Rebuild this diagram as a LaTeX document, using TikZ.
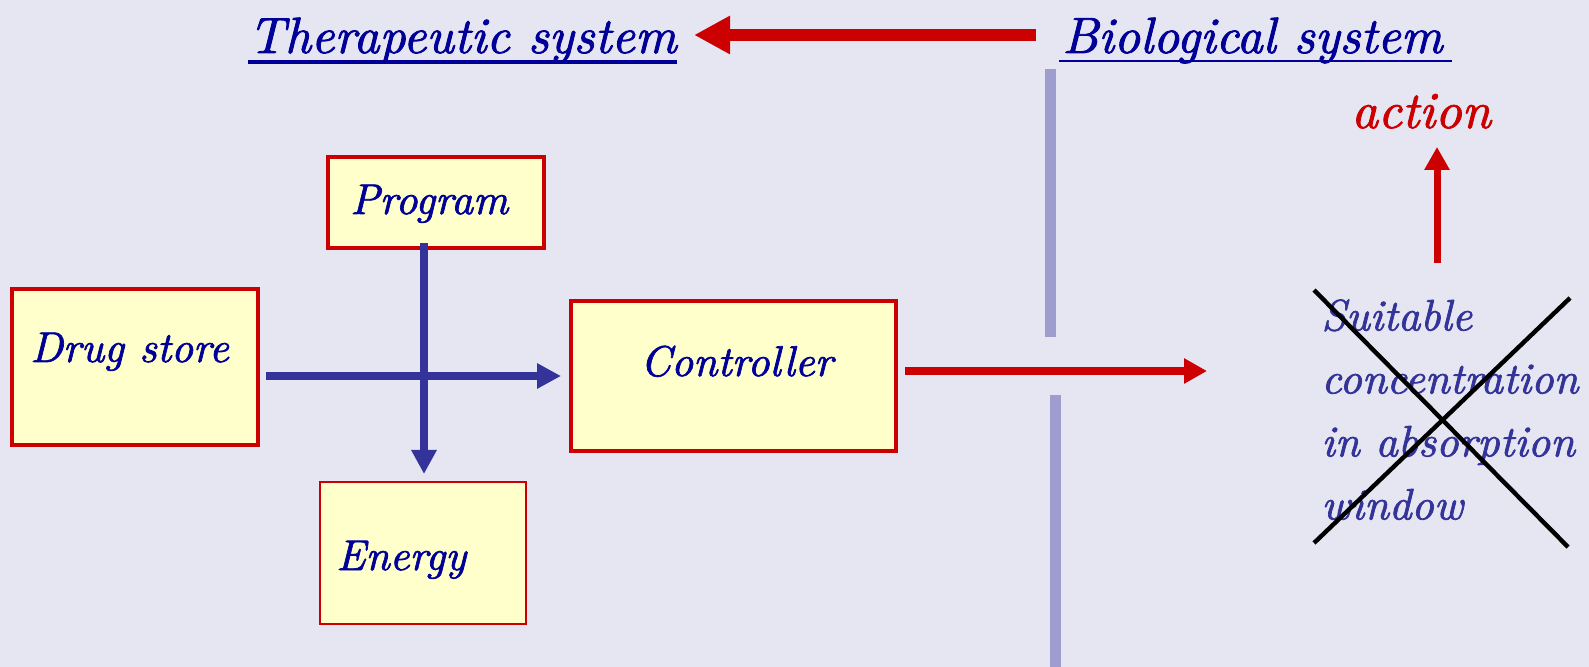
\documentclass[tikz,border=0pt]{standalone}
\usepackage{fontspec}
\usetikzlibrary{arrows.meta,calc}
% a heavier calligraphic italic for every label
\newfontfamily\heavyit{lmroman10-italic.otf}[FakeBold=1.6]
\definecolor{slide}{HTML}{E6E6F2}
\definecolor{boxfill}{HTML}{FFFFCC}
\definecolor{boxred}{HTML}{CC0000}
\definecolor{ink}{HTML}{000099}
\definecolor{flow}{HTML}{333399}
\definecolor{wallc}{HTML}{9E9ECE}
\begin{document}
\begin{tikzpicture}[x=0.5pt,y=-0.5pt,
  box/.style={draw=boxred, fill=boxfill, line width=2pt, inner sep=0pt, anchor=north west},
  lbl/.style={text=ink, font=\fontsize{21.5}{26}\heavyit, inner sep=0pt, anchor=base west},
  heading/.style={text=ink, font=\fontsize{25.5}{30}\heavyit, inner sep=0pt, anchor=base west},
  flowarrow/.style={draw=flow, line width=4pt, -{Triangle[length=12pt,width=12pt]}},
  redarrow/.style={draw=boxred, line width=4pt, -{Triangle[length=11.5pt,width=12pt]}},
  bigred/.style={draw=boxred, line width=6pt, -{Triangle[length=18pt,width=18pt]}},
  wall/.style={draw=wallc, line width=5.5pt},
  cross/.style={draw=black, line width=2.2pt}
]
% page
\fill[slide] (0,0) rectangle (1589,667);
\useasboundingbox (0,0) rectangle (1589,667);

% headings
\node[heading] (ther) at (248,53) {Therapeutic system};
\node[heading] (bio) at (1062,53) {Biological system};
\draw[ink, line width=1.75pt] ($(ther.base west)+(0,9)$) -- ($(ther.base east)+(0,9)$);
\draw[ink, line width=1pt] ($(bio.base west)+(-3,8)$) -- ($(bio.base east)+(9,8)$);
\draw[bigred] ($(bio.base west)+(-26,-18)$) -- ($(ther.base east)+(17,-18)$);

% membrane
\draw[wall] (1050,69) -- (1050,337);
\draw[wall] (1055,395) -- (1055,667);

% boxes of the therapeutic system
\node[box, minimum width=108pt, minimum height=45.5pt] (prog) at (326,155) {};
\node[box, minimum width=123pt, minimum height=78pt] (drug) at (10,287) {};
\node[box, minimum width=162.5pt, minimum height=75pt] (ctrl) at (569,299) {};
\node[box, line width=0.9pt, minimum width=103pt, minimum height=71pt] (en) at (319,481) {};

\node[lbl] (progtxt) at (350,214) {Program};
\node[lbl] (drugtxt) at (30,362) {Drug store};
\node[lbl] (ctrltxt) at (640,376) {Controller};
\node[lbl] (entxt) at (336,570) {Energy};

% flows
\coordinate (vx) at (424,0);
\draw[flowarrow, shorten <=-3.5pt, shorten >=3.5pt] (prog.south -| vx) -- (en.north -| vx);
\draw[flowarrow, shorten <=3pt, shorten >=4pt] (ctrl.west -| drug.east) -- (ctrl.west);

\coordinate (midtip) at (1207,371);
\draw[redarrow, shorten <=3.5pt] (ctrl.east |- midtip) -- (midtip);

% biological side
\node[inner sep=0pt, anchor=north west, align=left, text=flow,
      font=\fontsize{22}{31.5}\heavyit] (suit) at (1321,299)
  {Suitable\\concentration\\in absorption\\window};
\draw[cross] (1314,290) -- (1568,547);
\draw[cross] (1314,543) -- (1570,298);

\node[inner sep=0pt, anchor=base west, text=boxred,
      font=\fontsize{26}{30}\heavyit] (act) at (1351,128) {action};
\coordinate (actfoot) at (1437,263);
\draw[draw=boxred, line width=3.5pt, -{Triangle[length=11.5pt,width=12pt]}, shorten >=9pt]
  (actfoot) -- (actfoot |- act.south);
\end{tikzpicture}
\end{document}
